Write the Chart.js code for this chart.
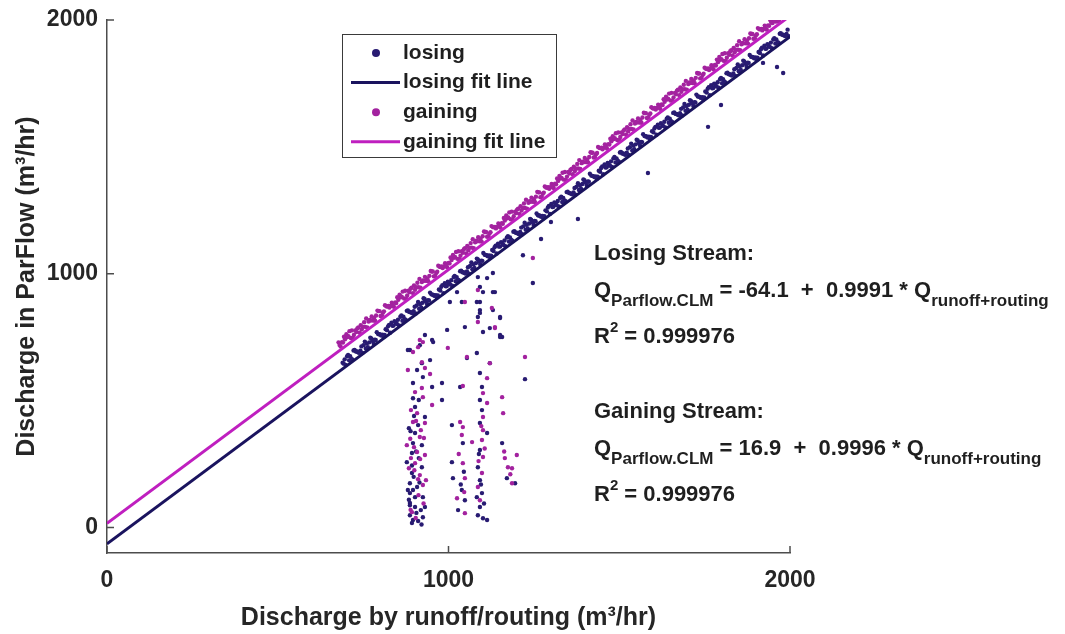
<!DOCTYPE html>
<html>
<head>
<meta charset="utf-8">
<script src="https://cdn.jsdelivr.net/npm/chart.js@4.4.1/dist/chart.umd.min.js"></script>
<style>
  body { margin: 0; background: #fff; }
  canvas { display: block; }
</style>
</head>
<body>
<canvas id="qChart" width="1065" height="634"></canvas>
<script>
// axis ticks
const xTicks = [0, 1000, 2000];
const yTicks = [0, 1000, 2000];
const xRange = [0, 2000];
const yRange = [-100, 2000];

// fit coefficients [intercept, slope, R2]
const losingFit = [-64.1, 0.9991, 0.999976];
const gainingFit = [16.9, 0.9996, 0.999976];

// losing stream points along the 1:1 band
const losingBand = [
  [690,650],[703,675],[716,665],[729,694],[742,697],[755,733],[768,730],[781,725],[794,763],[807,760],[820,778],[833,807],
  [846,806],[859,831],[872,821],[885,850],[898,853],[911,889],[924,886],[937,881],[950,919],[963,916],[976,934],[989,963],
  [1002,962],[1015,987],[1028,977],[1041,1006],[1054,1009],[1067,1045],[1080,1042],[1093,1037],[1106,1075],[1119,1072],[1132,1090],[1145,1119],
  [1158,1118],[1171,1143],[1184,1133],[1197,1162],[1210,1165],[1223,1201],[1236,1198],[1249,1193],[1262,1231],[1275,1228],[1288,1246],[1301,1275],
  [1314,1274],[1327,1299],[1340,1289],[1353,1318],[1366,1321],[1379,1357],[1392,1354],[1405,1349],[1418,1387],[1431,1384],[1444,1402],[1457,1431],
  [1470,1430],[1483,1455],[1496,1445],[1509,1474],[1522,1477],[1535,1513],[1548,1510],[1561,1505],[1574,1543],[1587,1540],[1600,1558],[1613,1587],
  [1626,1586],[1639,1611],[1652,1601],[1665,1630],[1678,1633],[1691,1669],[1704,1666],[1717,1661],[1730,1699],[1743,1696],[1756,1714],[1769,1743],
  [1782,1742],[1795,1767],[1808,1757],[1821,1786],[1834,1789],[1847,1825],[1860,1822],[1873,1817],[1886,1855],[1899,1852],[1912,1870],[1925,1899],
  [1938,1898],[1951,1923],[1964,1913],[1977,1942],[1990,1945],
  [696,663],[709,659],[722,698],[735,691],[748,688],[761,725],[774,745],[787,739],[800,761],[813,759],[826,799],[839,796],
  [852,819],[865,815],[878,854],[891,847],[904,844],[917,881],[930,901],[943,895],[956,917],[969,915],[982,955],[995,952],
  [1008,975],[1021,971],[1034,1010],[1047,1003],[1060,1000],[1073,1037],[1086,1057],[1099,1051],[1112,1073],[1125,1071],[1138,1111],[1151,1108],
  [1164,1131],[1177,1127],[1190,1166],[1203,1159],[1216,1156],[1229,1193],[1242,1213],[1255,1207],[1268,1229],[1281,1227],[1294,1267],[1307,1264],
  [1320,1287],[1333,1283],[1346,1322],[1359,1315],[1372,1312],[1385,1349],[1398,1369],[1411,1363],[1424,1385],[1437,1383],[1450,1423],[1463,1420],
  [1476,1443],[1489,1439],[1502,1478],[1515,1471],[1528,1468],[1541,1505],[1554,1525],[1567,1519],[1580,1541],[1593,1539],[1606,1579],[1619,1576],
  [1632,1599],[1645,1595],[1658,1634],[1671,1627],[1684,1624],[1697,1661],[1710,1681],[1723,1675],[1736,1697],[1749,1695],[1762,1735],[1775,1732],
  [1788,1755],[1801,1751],[1814,1790],[1827,1783],[1840,1780],[1853,1817],[1866,1837],[1879,1831],[1892,1853],[1905,1851],[1918,1891],[1931,1888],
  [1944,1911],[1957,1907],[1970,1946],[1983,1939],[1996,1936],
  [699,641],[712,675],[725,700],[738,689],[751,719],[764,711],[777,736],[790,770],[803,757],[816,782],[829,768],[842,813],
  [855,797],[868,831],[881,856],[894,845],[907,875],[920,867],[933,892],[946,926],[959,913],[972,938],[985,924],[998,969],
  [1011,953],[1024,987],[1037,1012],[1050,1001],[1063,1031],[1076,1023],[1089,1048],[1102,1082],[1115,1069],[1128,1094],[1141,1080],[1154,1125],
  [1167,1109],[1180,1143],[1193,1168],[1206,1157],[1219,1187],[1232,1179],[1245,1204],[1258,1238],[1271,1225],[1284,1250],[1297,1236],[1310,1281],
  [1323,1265],[1336,1299],[1349,1324],[1362,1313],[1375,1343],[1388,1335],[1401,1360],[1414,1394],[1427,1381],[1440,1406],[1453,1392],[1466,1437],
  [1479,1421],[1492,1455],[1505,1480],[1518,1469],[1531,1499],[1544,1491],[1557,1516],[1570,1550],[1583,1537],[1596,1562],[1609,1548],[1622,1593],
  [1635,1577],[1648,1611],[1661,1636],[1674,1625],[1687,1655],[1700,1647],[1713,1672],[1726,1706],[1739,1693],[1752,1718],[1765,1704],[1778,1749],
  [1791,1733],[1804,1767],[1817,1792],[1830,1781],[1843,1811],[1856,1803],[1869,1828],[1882,1862],[1895,1849],[1908,1874],[1921,1860],[1934,1905],
  [1947,1889],[1960,1923],[1973,1948],[1986,1937],
  [693,646],[706,680],[719,662],[732,694],[745,714],[758,706],[771,748],[784,740],[797,762],[810,751],[823,793],[836,795],
  [849,802],[862,836],[875,818],[888,850],[901,870],[914,862],[927,904],[940,896],[953,918],[966,907],[979,949],[992,951],
  [1005,958],[1018,992],[1031,974],[1044,1006],[1057,1026],[1070,1018],[1083,1060],[1096,1052],[1109,1074],[1122,1063],[1135,1105],[1148,1107],
  [1161,1114],[1174,1148],[1187,1130],[1200,1162],[1213,1182],[1226,1174],[1239,1216],[1252,1208],[1265,1230],[1278,1219],[1291,1261],[1304,1263],
  [1317,1270],[1330,1304],[1343,1286],[1356,1318],[1369,1338],[1382,1330],[1395,1372],[1408,1364],[1421,1386],[1434,1375],[1447,1417],[1460,1419],
  [1473,1426],[1486,1460],[1499,1442],[1512,1474],[1525,1494],[1538,1486],[1551,1528],[1564,1520],[1577,1542],[1590,1531],[1603,1573],[1616,1575],
  [1629,1582],[1642,1616],[1655,1598],[1668,1630],[1681,1650],[1694,1642],[1707,1684],[1720,1676],[1733,1698],[1746,1687],[1759,1729],[1772,1731],
  [1785,1738],[1798,1772],[1811,1754],[1824,1786],[1837,1806],[1850,1798],[1863,1840],[1876,1832],[1889,1854],[1902,1843],[1915,1885],[1928,1887],
  [1941,1894],[1954,1928],[1967,1910],[1980,1942],[1993,1962]
];

// losing stream points that drop away from the band
const losingLow = [
  [881,700],[916,719],[955,731],[946,660],[908,621],[925,593],[896,570],[952,554],[981,570],[896,510],[902,475],[981,503],
  [931,436],[911,404],[902,373],[896,333],[922,325],[893,294],[878,258],[922,238],[893,215],[887,175],[908,160],[887,136],
  [902,120],[925,120],[887,97],[902,81],[931,81],[887,49],[896,30],[925,41],[893,18],[913,503],[884,392],[913,274],
  [896,148],[919,69],[911,26],[881,148],[899,440],[889,380],[905,300],[893,245],[915,178],[884,110],[906,58],[921,12],
  [898,200],[887,88],
  [1034,554],[1010,404],[1042,333],[1010,258],[1013,195],[1039,148],[1048,108],[1028,69],[1045,220],[1036,170],
  [1092,846],[1092,889],[1130,857],[1101,771],[1083,688],[1092,609],[1098,554],[1092,503],[1098,463],[1092,412],[1113,373],[1092,306],
  [1086,238],[1092,187],[1098,136],[1092,81],[1086,49],[1101,37],[1113,30],[1086,987],[1130,928],[1089,290],[1095,170],[1083,120],
  [1104,95],
  [996,779],[1054,668],[1157,333],[1171,195],[1195,175],[1151,759],
  [1004,889],[1039,889],[1083,889],[1025,928],[1092,948],[1113,983],[1130,1003],[1101,928],[1136,928],[1092,857],[1151,826],[1086,830],
  [1121,786],[1157,751],[1048,790],[931,759],[887,700],[952,739],[1121,648],[922,648],
  [1271,1137],[1218,1073],[1247,964],[1300,1204],[1379,1216],[1151,830],[1151,751],[1224,585],[1584,1397],[1760,1579],[1798,1665],
  [1980,1791],[1962,1815],[1921,1831]
];

// gaining stream points along the band
const gainingBand = [
  [678,730],[691,729],[704,751],[717,777],[730,771],[743,798],[756,791],[769,818],[782,826],[795,853],[808,847],[821,871],
  [834,886],[847,885],[860,907],[873,933],[886,927],[899,954],[912,947],[925,974],[938,982],[951,1009],[964,1003],[977,1027],
  [990,1042],[1003,1041],[1016,1063],[1029,1089],[1042,1083],[1055,1110],[1068,1103],[1081,1130],[1094,1138],[1107,1165],[1120,1159],[1133,1183],
  [1146,1198],[1159,1197],[1172,1219],[1185,1245],[1198,1239],[1211,1266],[1224,1259],[1237,1286],[1250,1294],[1263,1321],[1276,1315],[1289,1339],
  [1302,1354],[1315,1353],[1328,1375],[1341,1401],[1354,1395],[1367,1422],[1380,1415],[1393,1442],[1406,1450],[1419,1477],[1432,1471],[1445,1495],
  [1458,1510],[1471,1509],[1484,1531],[1497,1557],[1510,1551],[1523,1578],[1536,1571],[1549,1598],[1562,1606],[1575,1633],[1588,1627],[1601,1651],
  [1614,1666],[1627,1665],[1640,1687],[1653,1713],[1666,1707],[1679,1734],[1692,1727],[1705,1754],[1718,1762],[1731,1789],[1744,1783],[1757,1807],
  [1770,1822],[1783,1821],[1796,1843],[1809,1869],[1822,1863],[1835,1890],[1848,1883],[1861,1910],[1874,1918],[1887,1945],[1900,1939],[1913,1963],
  [1926,1978],[1939,1977],[1952,1999],[1965,1998],
  [684,714],[697,742],[710,774],[723,759],[736,789],[749,791],[762,789],[775,832],[788,836],[801,834],[814,876],[827,867],
  [840,870],[853,898],[866,930],[879,915],[892,945],[905,947],[918,945],[931,988],[944,992],[957,990],[970,1032],[983,1023],
  [996,1026],[1009,1054],[1022,1086],[1035,1071],[1048,1101],[1061,1103],[1074,1101],[1087,1144],[1100,1148],[1113,1146],[1126,1188],[1139,1179],
  [1152,1182],[1165,1210],[1178,1242],[1191,1227],[1204,1257],[1217,1259],[1230,1257],[1243,1300],[1256,1304],[1269,1302],[1282,1344],[1295,1335],
  [1308,1338],[1321,1366],[1334,1398],[1347,1383],[1360,1413],[1373,1415],[1386,1413],[1399,1456],[1412,1460],[1425,1458],[1438,1500],[1451,1491],
  [1464,1494],[1477,1522],[1490,1554],[1503,1539],[1516,1569],[1529,1571],[1542,1569],[1555,1612],[1568,1616],[1581,1614],[1594,1656],[1607,1647],
  [1620,1650],[1633,1678],[1646,1710],[1659,1695],[1672,1725],[1685,1727],[1698,1725],[1711,1768],[1724,1772],[1737,1770],[1750,1812],[1763,1803],
  [1776,1806],[1789,1834],[1802,1866],[1815,1851],[1828,1881],[1841,1883],[1854,1881],[1867,1924],[1880,1928],[1893,1926],[1906,1968],[1919,1959],
  [1932,1962],[1945,1990],[1958,1994],
  [688,731],[701,762],[714,747],[727,777],[740,768],[753,809],[766,812],[779,816],[792,855],[805,836],[818,872],[831,873],
  [844,887],[857,918],[870,903],[883,933],[896,924],[909,965],[922,968],[935,972],[948,1011],[961,992],[974,1028],[987,1029],
  [1000,1043],[1013,1074],[1026,1059],[1039,1089],[1052,1080],[1065,1121],[1078,1124],[1091,1128],[1104,1167],[1117,1148],[1130,1184],[1143,1185],
  [1156,1199],[1169,1230],[1182,1215],[1195,1245],[1208,1236],[1221,1277],[1234,1280],[1247,1284],[1260,1323],[1273,1304],[1286,1340],[1299,1341],
  [1312,1355],[1325,1386],[1338,1371],[1351,1401],[1364,1392],[1377,1433],[1390,1436],[1403,1440],[1416,1479],[1429,1460],[1442,1496],[1455,1497],
  [1468,1511],[1481,1542],[1494,1527],[1507,1557],[1520,1548],[1533,1589],[1546,1592],[1559,1596],[1572,1635],[1585,1616],[1598,1652],[1611,1653],
  [1624,1667],[1637,1698],[1650,1683],[1663,1713],[1676,1704],[1689,1745],[1702,1748],[1715,1752],[1728,1791],[1741,1772],[1754,1808],[1767,1809],
  [1780,1823],[1793,1854],[1806,1839],[1819,1869],[1832,1860],[1845,1901],[1858,1904],[1871,1908],[1884,1947],[1897,1928],[1910,1964],[1923,1965],
  [1936,1979],[1949,1988],[1962,1995],
  [681,720],[694,752],[707,754],[720,746],[733,785],[746,781],[759,824],[772,816],[785,815],[798,853],[811,852],[824,873],
  [837,876],[850,908],[863,910],[876,902],[889,941],[902,937],[915,980],[928,972],[941,971],[954,1009],[967,1008],[980,1029],
  [993,1032],[1006,1064],[1019,1066],[1032,1058],[1045,1097],[1058,1093],[1071,1136],[1084,1128],[1097,1127],[1110,1165],[1123,1164],[1136,1185],
  [1149,1188],[1162,1220],[1175,1222],[1188,1214],[1201,1253],[1214,1249],[1227,1292],[1240,1284],[1253,1283],[1266,1321],[1279,1320],[1292,1341],
  [1305,1344],[1318,1376],[1331,1378],[1344,1370],[1357,1409],[1370,1405],[1383,1448],[1396,1440],[1409,1439],[1422,1477],[1435,1476],[1448,1497],
  [1461,1500],[1474,1532],[1487,1534],[1500,1526],[1513,1565],[1526,1561],[1539,1604],[1552,1596],[1565,1595],[1578,1633],[1591,1632],[1604,1653],
  [1617,1656],[1630,1688],[1643,1690],[1656,1682],[1669,1721],[1682,1717],[1695,1760],[1708,1752],[1721,1751],[1734,1789],[1747,1788],[1760,1809],
  [1773,1812],[1786,1844],[1799,1846],[1812,1838],[1825,1877],[1838,1873],[1851,1916],[1864,1908],[1877,1907],[1890,1945],[1903,1944],[1916,1965],
  [1929,1968],[1942,2000],[1955,1997],[1968,1994]
];

// gaining stream points that drop away from the band
const gainingLow = [
  [896,692],[925,731],[922,652],[881,621],[931,629],[946,605],[902,534],[922,550],[925,514],[952,483],[908,451],[896,416],
  [931,412],[916,357],[878,325],[908,298],[931,286],[902,254],[916,207],[925,168],[890,463],[919,384],[899,317],[884,234],
  [911,191],[893,61],[934,187],[890,274],[928,353],[905,420],[888,350],[917,270],[900,226],[912,128],[889,70],[927,95],
  [904,38],
  [1042,558],[1034,416],[1042,396],[1039,365],[1069,337],[1042,254],[1048,195],[1025,116],[1048,57],[1030,290],[1046,140],
  [1086,810],[1136,790],[1121,648],[1113,589],[1101,530],[1113,491],[1101,436],[1101,384],[1098,345],[1101,278],[1098,215],[1086,160],
  [1092,108],[1086,936],[998,708],[1096,400],[1088,262],[1106,312],
  [1157,514],[1160,451],[1165,274],[1174,238],[1186,234],[1186,175],[1200,286],[1181,210],[1163,300],
  [1048,889],[1127,865],[1136,786],[916,739],[911,711],[1054,672],[1247,1062],[1224,672]
];

const losingDot = '#281b72';
const losingLine = '#1a135e';
const gainingDot = '#a3229f';
const gainingLine = '#bf1fbf';
const axisGray = '#4d4d4d';
const textColor = '#1f1f1f';
const FONT = '"Liberation Sans", Arial, Helvetica, sans-serif';

Chart.defaults.font.family = FONT;

const toXY = pts => pts.map(p => ({ x: p[0], y: p[1] }));
const fitLine = fit => xRange.map(x => ({ x: x, y: fit[0] + fit[1] * x }));

// inward tick marks, MATLAB style
const tickMarks = {
  id: 'tickMarks',
  afterDraw(chart) {
    const { ctx, chartArea, scales } = chart;
    ctx.save();
    ctx.strokeStyle = axisGray;
    ctx.lineWidth = 1.5;
    ctx.beginPath();
    xTicks.forEach(v => {
      const px = scales.x.getPixelForValue(v);
      ctx.moveTo(px, chartArea.bottom);
      ctx.lineTo(px, chartArea.bottom - 7);
    });
    yTicks.forEach(v => {
      const py = scales.y.getPixelForValue(v);
      ctx.moveTo(chartArea.left, py);
      ctx.lineTo(chartArea.left + 7, py);
    });
    ctx.stroke();
    ctx.restore();
  }
};

// legend box drawn by hand
const legendBox = {
  id: 'legendBox',
  afterDraw(chart) {
    const ctx = chart.ctx;
    const items = [
      { label: 'losing', dot: true, color: losingDot },
      { label: 'losing fit line', dot: false, color: losingLine },
      { label: 'gaining', dot: true, color: gainingDot },
      { label: 'gaining fit line', dot: false, color: gainingLine }
    ];
    ctx.save();
    ctx.fillStyle = '#fff';
    ctx.fillRect(342.5, 34.5, 214, 123);
    ctx.strokeStyle = '#3a3a3a';
    ctx.lineWidth = 1;
    ctx.strokeRect(342.5, 34.5, 214, 123);
    ctx.font = 'bold 21px ' + FONT;
    ctx.textBaseline = 'middle';
    items.forEach((it, i) => {
      const y = 53 + i * 29.6;
      if (it.dot) {
        ctx.fillStyle = it.color;
        ctx.beginPath();
        ctx.arc(376, y, 4, 0, Math.PI * 2);
        ctx.fill();
      } else {
        ctx.strokeStyle = it.color;
        ctx.lineWidth = 3;
        ctx.beginPath();
        ctx.moveTo(351, y);
        ctx.lineTo(400, y);
        ctx.stroke();
      }
      ctx.fillStyle = textColor;
      ctx.fillText(it.label, 403, y);
    });
    ctx.restore();
  }
};

// fit equations on the right
const fitText = {
  id: 'fitText',
  afterDraw(chart) {
    const ctx = chart.ctx;
    const big = 'bold 22px ' + FONT;
    const small = 'bold 17px ' + FONT;
    const sup = 'bold 15px ' + FONT;
    const x0 = 594;

    function runs(parts, y) {
      let x = x0;
      parts.forEach(p => {
        ctx.font = p[1];
        ctx.fillText(p[0], x, y + p[2]);
        x += ctx.measureText(p[0]).width;
      });
    }

    function block(title, fit, y) {
      const sign = fit[0] < 0 ? '-' : '';
      const eq = ' = ' + sign + Math.abs(fit[0]).toFixed(1) + '  +  ' + fit[1].toFixed(4) + ' * Q';
      ctx.font = big;
      ctx.fillText(title, x0, y);
      runs([['Q', big, 0], ['Parflow.CLM', small, 9], [eq, big, 0], ['runoff+routing', small, 9]], y + 37);
      runs([['R', big, 0], ['2', sup, -11], [' = ' + fit[2].toFixed(6), big, 0]], y + 83);
    }

    ctx.save();
    ctx.fillStyle = textColor;
    ctx.textBaseline = 'alphabetic';
    block('Losing Stream:', losingFit, 260);
    block('Gaining Stream:', gainingFit, 418);
    ctx.restore();
  }
};

const ctx = document.getElementById('qChart').getContext('2d');
const qChart = new Chart(ctx, {
  type: 'scatter',
  data: {
    datasets: [
      {
        label: 'losing',
        data: toXY(losingBand.concat(losingLow)),
        backgroundColor: losingDot,
        pointRadius: 2.2,
        pointBorderWidth: 0,
        order: 4
      },
      {
        label: 'losing fit line',
        data: fitLine(losingFit),
        showLine: true,
        borderColor: losingLine,
        borderWidth: 3,
        pointRadius: 0,
        order: 3
      },
      {
        label: 'gaining',
        data: toXY(gainingBand.concat(gainingLow)),
        backgroundColor: gainingDot,
        pointRadius: 2.2,
        pointBorderWidth: 0,
        order: 2
      },
      {
        label: 'gaining fit line',
        data: fitLine(gainingFit),
        showLine: true,
        borderColor: gainingLine,
        borderWidth: 3,
        pointRadius: 0,
        order: 1
      }
    ]
  },
  options: {
    responsive: false,
    animation: false,
    layout: { padding: { left: 0, top: 20, right: 275, bottom: 0 } },
    plugins: {
      legend: { display: false },
      tooltip: { enabled: false }
    },
    scales: {
      x: {
        type: 'linear',
        min: xRange[0],
        max: xRange[1],
        afterFit: s => { s.height = 81; },
        afterBuildTicks: s => { s.ticks = xTicks.map(v => ({ value: v })); },
        grid: { display: false },
        border: { display: true, color: axisGray, width: 1.5 },
        ticks: {
          color: '#262626',
          padding: 6,
          maxRotation: 0,
          font: { size: 23, weight: 'bold' },
          callback: v => String(v)
        },
        title: {
          display: true,
          text: 'Discharge by runoff/routing (m³/hr)',
          color: '#262626',
          font: { size: 25, weight: 'bold' },
          padding: { top: 0, bottom: 1 }
        }
      },
      y: {
        type: 'linear',
        min: yRange[0],
        max: yRange[1],
        afterFit: s => { s.width = 107; },
        afterBuildTicks: s => { s.ticks = yTicks.map(v => ({ value: v })); },
        grid: { display: false },
        border: { display: true, color: axisGray, width: 1.5 },
        ticks: {
          color: '#262626',
          padding: 1,
          font: { size: 23, weight: 'bold' },
          callback: v => String(v)
        },
        title: {
          display: true,
          text: 'Discharge in ParFlow (m³/hr)',
          color: '#262626',
          font: { size: 25, weight: 'bold' },
          padding: { top: 12, bottom: 0 }
        }
      }
    }
  },
  plugins: [tickMarks, legendBox, fitText]
});
</script>
</body>
</html>
